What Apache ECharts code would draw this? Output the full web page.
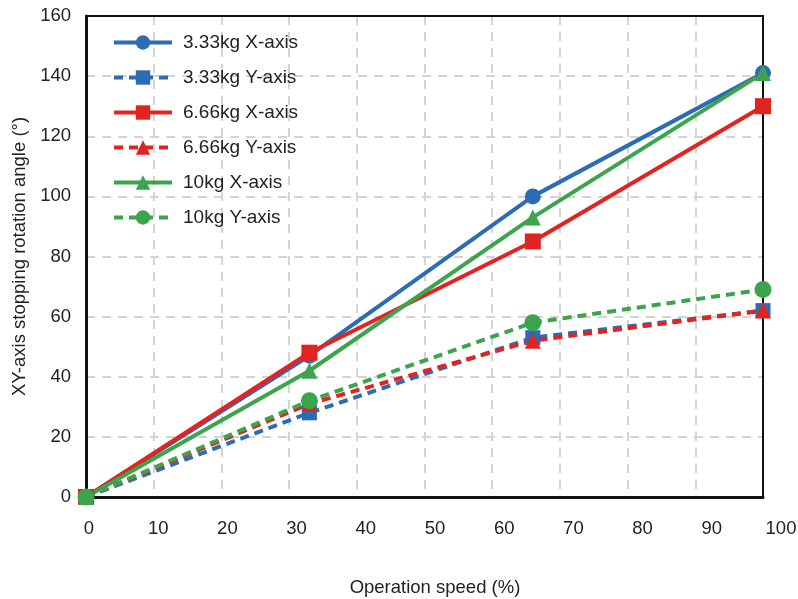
<!DOCTYPE html>
<html><head><meta charset="utf-8">
<script src="https://cdn.jsdelivr.net/npm/echarts@6/dist/echarts.min.js"></script>
<style>html,body{margin:0;padding:0;background:#fff}#c{width:798px;height:599px}</style>
</head><body><div id="c"></div>
<script>
const speed = [0, 33, 66, 100];
const kg333X = [0, 47, 100, 141];
const kg333Y = [0, 28, 53, 62];
const kg666X = [0, 48, 85, 130];
const kg666Y = [0, 31, 52, 62];
const kg10X = [0, 42, 93, 141];
const kg10Y = [0, 32, 58, 69];
const names = ['3.33kg X-axis','3.33kg Y-axis','6.66kg X-axis','6.66kg Y-axis','10kg X-axis','10kg Y-axis'];
const xTicks = [0,10,20,30,40,50,60,70,80,90,100];
const yTicks = [0,20,40,60,80,100,120,140,160];

const BLUE='#2b6cb4', RED='#e3231f', GREEN='#3ba44c';
const FONT='Liberation Sans';
const FS=18.5;
const pair = ys => speed.map((x,i)=>[x, ys[i]]);
function mk(name, ys, color, dashed, symbol, size){
  return {name, type:'line', data:pair(ys), xAxisIndex:0, yAxisIndex:0,
    symbol, symbolSize:size, showSymbol:true, clip:false, z:5,
    lineStyle:{color, width:4, type: dashed ? [9,6] : 'solid'},
    itemStyle:{color}};
}
const chart = echarts.init(document.getElementById('c'), null, {renderer:'canvas'});
const gridLine = {show:true, lineStyle:{color:'#d4d4d4', width:2, type:[9,7]}};
chart.setOption({
  animation:false,
  textStyle:{fontFamily:FONT},
  grid:[{left:86, right:35, top:16, bottom:102, containLabel:false, outerBoundsMode:'none'},
        {left:89, right:17, top:16, bottom:102, containLabel:false, outerBoundsMode:'none'}],
  xAxis:[
    {type:'value', gridIndex:0, min:xTicks[0], max:xTicks[xTicks.length-1], interval:10,
     axisLabel:{show:false}, axisTick:{show:false}, z:3,
     axisLine:{show:true, lineStyle:{color:'#111', width:3}},
     splitLine:gridLine},
    {type:'value', gridIndex:1, min:xTicks[0], max:xTicks[xTicks.length-1], interval:10,
     axisLine:{show:false}, axisTick:{show:false}, splitLine:{show:false},
     axisLabel:{show:true, fontSize:FS, color:'#222', margin:22, fontFamily:FONT},
     name:'Operation speed (%)', nameLocation:'middle', nameGap:81,
     nameTextStyle:{fontSize:FS, color:'#222', fontFamily:FONT}},
    {type:'value', gridIndex:0, position:'top', min:0, max:100, z:3,
     axisLabel:{show:false}, axisTick:{show:false}, splitLine:{show:false},
     axisLine:{show:true, onZero:false, lineStyle:{color:'#111', width:2}}}
  ],
  yAxis:[
    {type:'value', gridIndex:0, min:yTicks[0], max:yTicks[yTicks.length-1], interval:20, z:3,
     axisLabel:{fontSize:FS, color:'#222', margin:15, fontFamily:FONT},
     axisTick:{show:false},
     axisLine:{show:true, lineStyle:{color:'#111', width:3}},
     splitLine:gridLine,
     name:'XY-axis stopping rotation angle (°)', nameLocation:'middle', nameGap:57,
     nameTextStyle:{fontSize:FS, color:'#222', fontFamily:FONT}},
    {type:'value', gridIndex:1, min:0, max:160, show:false},
    {type:'value', gridIndex:0, position:'right', min:0, max:160, z:3,
     axisLabel:{show:false}, axisTick:{show:false}, splitLine:{show:false},
     axisLine:{show:true, onZero:false, lineStyle:{color:'#111', width:2}}}
  ],
  legend:{left:112, top:33, orient:'vertical', padding:0, itemWidth:58, itemHeight:18, itemGap:16,
    lineStyle:{width:4},
    textStyle:{fontSize:19, color:'#222', fontFamily:FONT, padding:[0,0,0,6]},
    data:names},
  series:[
    mk(names[0], kg333X, BLUE, false, 'circle', 16),
    mk(names[1], kg333Y, BLUE, true, 'rect', 15),
    mk(names[2], kg666X, RED, false, 'rect', 16),
    mk(names[3], kg666Y, RED, true, 'triangle', 16),
    mk(names[4], kg10X, GREEN, false, 'triangle', 16),
    mk(names[5], kg10Y, GREEN, true, 'circle', 17)
  ]
});
</script></body></html>
